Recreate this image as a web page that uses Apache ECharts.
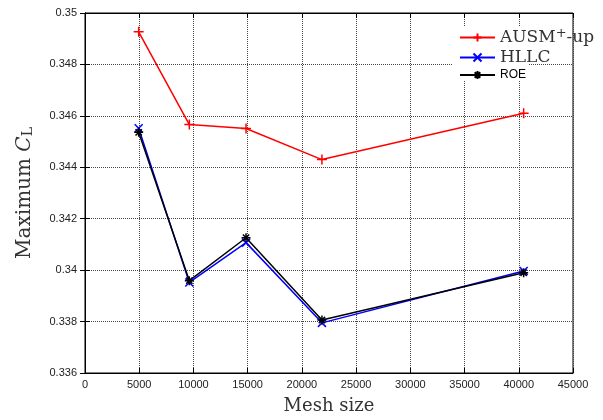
<!DOCTYPE html>
<html>
<head>
<meta charset="utf-8">
<script src="https://cdn.jsdelivr.net/npm/echarts@6/dist/echarts.min.js"></script>
<style>
html, body { margin: 0; padding: 0; background: #fff; }
#main { width: 603px; height: 420px; }
</style>
</head>
<body>
<div id="main"></div>
<script>
// mesh sizes and max CL per scheme
var meshSize = [4950, 9620, 14850, 21850, 40450];
var ausm = [0.34927, 0.34566, 0.34551, 0.34430, 0.34610];
var hllc = [0.34552, 0.33952, 0.34107, 0.33795, 0.33997];
var roe  = [0.34536, 0.33959, 0.34126, 0.33806, 0.33990];
var seriesNames = ['AUSM+-up', 'HLLC', 'ROE'];

function pairs(xs, ys) {
    return xs.map(function (x, i) { return [x, ys[i]]; });
}

var plusPath = 'path://M0,5L10,5M5,0L5,10';
var crossPath = 'path://M0,0L10,10M10,0L0,10';
var starPath = 'path://M0,5L10,5M5,0L5,10M1.5,1.5L8.5,8.5M8.5,1.5L1.5,8.5';

var chart = echarts.init(document.getElementById('main'));

var gridLine = { show: true, lineStyle: { color: '#444', type: 'dotted', width: 1 } };
var tickIn = { show: true, inside: true, length: 5, lineStyle: { color: '#000' } };

var option = {
    animation: false,
    backgroundColor: '#fff',
    grid: {
        left: 85, right: 30, top: 13, bottom: 45,
        show: true, borderColor: '#000', borderWidth: 1
    },
    // white box behind the legend, hides the dotted grid there
    graphic: [{
        type: 'rect',
        left: 453, top: 27, z: 1,
        shape: { width: 75, height: 54 },
        style: { fill: '#fff' }
    }],
    legend: {
        data: seriesNames,
        orient: 'vertical',
        left: 459,
        top: 27,
        itemWidth: 35,
        itemHeight: 10,
        itemGap: 3,
        padding: 0,
        formatter: function (name) {
            if (name === 'AUSM+-up') return '{s|AUSM}{sup|+}{s|-up}';
            if (name === 'HLLC') return '{s|HLLC}';
            return '{r|ROE}';
        },
        textStyle: {
            rich: {
                s: { fontFamily: 'DejaVu Serif', fontSize: 17, color: '#333', height: 17 },
                sup: { fontFamily: 'DejaVu Serif', fontSize: 13, color: '#333', verticalAlign: 'top', padding: [0, 0, 8, 0] },
                r: { fontFamily: 'Liberation Sans', fontSize: 12, color: '#000', height: 17 }
            }
        }
    },
    xAxis: [{
        type: 'value',
        min: 0, max: 45000, interval: 5000,
        name: 'Mesh size',
        nameLocation: 'middle',
        nameGap: 24,
        nameTextStyle: { fontFamily: 'DejaVu Serif', fontSize: 18, color: '#333' },
        axisLine: { show: true, lineStyle: { color: '#000' } },
        axisTick: tickIn,
        axisLabel: { fontFamily: 'Liberation Sans', fontSize: 11, color: '#222', margin: 6,
            formatter: function (v) { return String(v); } },
        splitLine: gridLine
    }, {
        type: 'value', position: 'top',
        min: 0, max: 45000, interval: 5000,
        axisLine: { show: true, lineStyle: { color: '#000' } },
        axisTick: tickIn,
        axisLabel: { show: false },
        splitLine: { show: false }
    }],
    yAxis: [{
        type: 'value',
        min: 0.336, max: 0.35, interval: 0.002,
        name: '{n|Maximum }{c|C}{sub|L}',
        nameLocation: 'middle',
        nameGap: 50,
        nameTextStyle: {
            rich: {
                n: { fontFamily: 'DejaVu Serif', fontSize: 20, color: '#333' },
                c: { fontFamily: 'DejaVu Serif', fontStyle: 'italic', fontSize: 20, color: '#333' },
                sub: { fontFamily: 'DejaVu Serif', fontSize: 14, color: '#333', verticalAlign: 'bottom', padding: [7, 0, 0, 0] }
            }
        },
        axisLine: { show: true, lineStyle: { color: '#000' } },
        axisTick: tickIn,
        axisLabel: { fontFamily: 'Liberation Sans', fontSize: 11, color: '#222', margin: 8 },
        splitLine: gridLine
    }, {
        type: 'value', position: 'right',
        min: 0.336, max: 0.35, interval: 0.002,
        axisLine: { show: true, lineStyle: { color: '#000' } },
        axisTick: tickIn,
        axisLabel: { show: false },
        splitLine: { show: false }
    }],
    series: [
        {
            name: 'AUSM+-up',
            type: 'line',
            data: pairs(meshSize, ausm),
            symbol: plusPath,
            symbolSize: 10,
            lineStyle: { color: '#ff0000', width: 1.5 },
            itemStyle: { color: 'rgba(0,0,0,0)', borderColor: '#ff0000', borderWidth: 1.5 }
        },
        {
            name: 'HLLC',
            type: 'line',
            data: pairs(meshSize, hllc),
            symbol: crossPath,
            symbolSize: 8,
            lineStyle: { color: '#0000ff', width: 1.5 },
            itemStyle: { color: 'rgba(0,0,0,0)', borderColor: '#0000ff', borderWidth: 1.5 }
        },
        {
            name: 'ROE',
            type: 'line',
            data: pairs(meshSize, roe),
            symbol: starPath,
            symbolSize: 9,
            lineStyle: { color: '#000', width: 1.5 },
            itemStyle: { color: 'rgba(0,0,0,0)', borderColor: '#000', borderWidth: 1.5 }
        }
    ]
};

chart.setOption(option);
</script>
</body>
</html>
